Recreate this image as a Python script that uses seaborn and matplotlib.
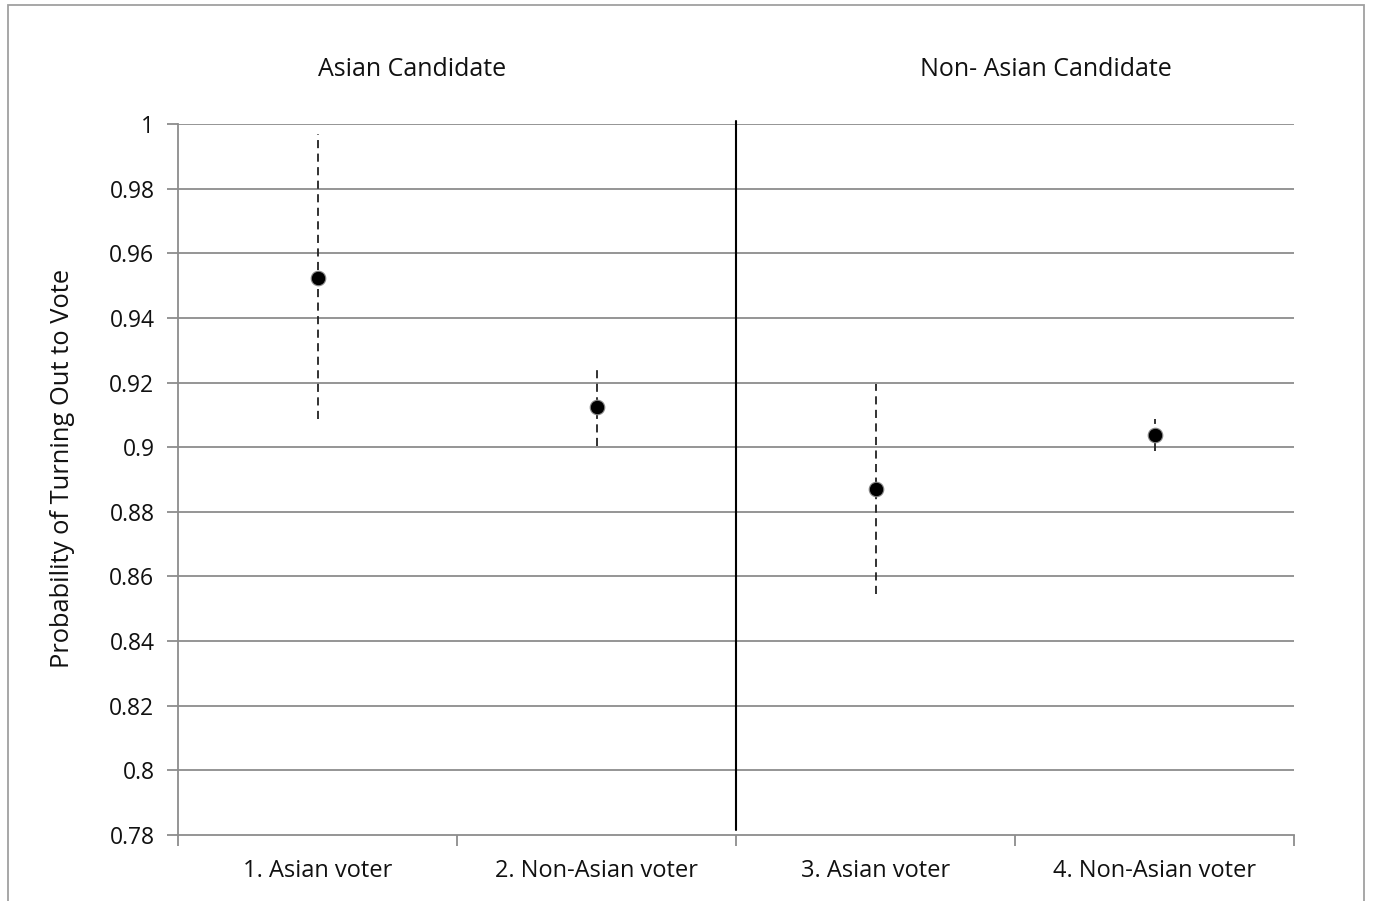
import matplotlib
matplotlib.use("Agg")
import matplotlib.pyplot as plt
import seaborn as sns
import pandas as pd
from matplotlib.patches import Rectangle

categories = ["1. Asian voter", "2. Non-Asian voter", "3. Asian voter", "4. Non-Asian voter"]
estimates = [0.9525, 0.9124, 0.8871, 0.9038]
upper = [0.9970, 0.9252, 0.9196, 0.9086]
lower = [0.9086, 0.9003, 0.8546, 0.8989]
group_titles = ["Asian Candidate", "Non- Asian Candidate"]
y_ticks = [0.78, 0.80, 0.82, 0.84, 0.86, 0.88, 0.90, 0.92, 0.94, 0.96, 0.98, 1.0]
y_tick_labels = ["0.78", "0.8", "0.82", "0.84", "0.86", "0.88", "0.9", "0.92", "0.94", "0.96", "0.98", "1"]

df = pd.DataFrame({"category": categories, "estimate": estimates, "upper": upper, "lower": lower})

sns.set_theme(style="white")
plt.rcParams['font.family'] = ['Open Sans', 'DejaVu Sans']

fig = plt.figure(figsize=(13.73, 9.01), dpi=100)
ax = fig.add_axes([178/1373, 1-835/901, (1294-178)/1373, (835-124)/901])

grid_c = "#8c8c8c"
ax.set_ylim(0.78, 1.0)
ax.set_xlim(-0.5, 3.5)
ax.set_yticks(y_ticks)
ax.set_yticklabels(y_tick_labels)
for yv in y_ticks[1:]:
    ax.axhline(yv, color=grid_c, lw=1.3, zorder=0)

# error bars
xs = list(range(len(categories)))
for x, lo, hi in zip(xs, df["lower"], df["upper"]):
    ax.plot([x, x], [lo, hi], color="#222222", lw=1.3, ls=(0, (4.5, 3)), zorder=2)

sns.scatterplot(data=df, x="category", y="estimate", ax=ax, color="black",
                s=110, edgecolor="#888888", linewidth=0.8, zorder=3, legend=False)

ax.set_xlim(-0.5, 3.5)
ax.set_ylim(0.78, 1.0)

# separator
ax.plot([1.5, 1.5], [0.7815, 1.001], color="black", lw=1.5, clip_on=False, zorder=2)

for s in ["top", "right"]:
    ax.spines[s].set_visible(False)
for s in ["left", "bottom"]:
    ax.spines[s].set_color(grid_c)
    ax.spines[s].set_linewidth(1.3)

ax.set_xticks([0, 1, 2, 3])
ax.set_xticklabels(categories, fontsize=17, color="#111111")
ax.set_xticks([-0.5, 0.5, 1.5, 2.5, 3.5], minor=True)
ax.tick_params(axis="x", which="major", length=0, pad=17)
ax.tick_params(axis="x", which="minor", length=8, width=1.3, color=grid_c, direction="out", bottom=True)
ax.tick_params(axis="y", length=8, width=1.3, color=grid_c, direction="out", pad=9,
               labelsize=16.5, labelcolor="#111111", left=True)
ax.set_xlabel("")
ax.set_ylabel("Probability of Turning Out to Vote", fontsize=18.4, color="#111111", labelpad=31)
ax.yaxis.set_label_coords(-0.092, 0.515)

title_x = [0.34, 2.61]
for tx, tt in zip(title_x, group_titles):
    ax.text(tx, 1.0 + 55/711, tt, transform=ax.get_xaxis_transform(),
            ha="center", va="center", fontsize=18, color="#111111")

# outer chart border
fig.patches.append(Rectangle((8/1373, -0.05), (1364-8)/1373, 1.05 - 5/901,
                             transform=fig.transFigure, fill=False, edgecolor="#a0a0a0", lw=1.3))

fig.savefig("out.png", dpi=100)
